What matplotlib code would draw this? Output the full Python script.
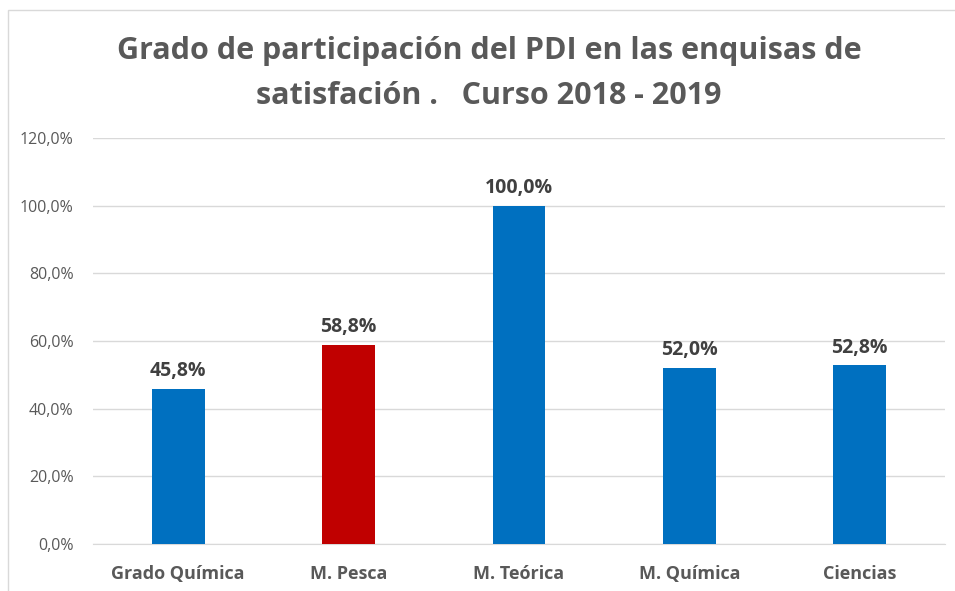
import matplotlib.pyplot as plt
from matplotlib.patches import Rectangle

categories = ["Grado Química", "M. Pesca", "M. Teórica", "M. Química", "Ciencias"]
values = [45.8, 58.8, 100.0, 52.0, 52.8]
bar_colors = ["#0070C0", "#C00000", "#0070C0", "#0070C0", "#0070C0"]
y_ticks = [0, 20, 40, 60, 80, 100, 120]

plt.rcParams['font.family'] = ['Open Sans', 'DejaVu Sans']

fig = plt.figure(figsize=(9.55, 5.91), dpi=100)
ax = fig.add_axes([93/955, 47/591, 852/955, 406/591])

x = list(range(len(categories)))
ax.bar(x, values, width=0.31, color=bar_colors, zorder=3)
for xi, v in zip(x, values):
    ax.text(xi, v + 2.3, ("%.1f%%" % v).replace(".", ","), ha="center", va="bottom",
            fontsize=14, fontweight="bold", color="#404040")

ax.set_xlim(-0.5, len(categories) - 0.5)
ax.set_ylim(0, 120)
ax.set_yticks(y_ticks)
ax.set_yticklabels([("%.1f%%" % t).replace(".", ",") for t in y_ticks],
                   fontsize=11.5, color="#595959")
ax.set_xticks(x)
ax.set_xticklabels(categories, fontsize=13, fontweight="bold", color="#595959")
ax.tick_params(axis="both", length=0)
ax.tick_params(axis="y", pad=14)
ax.tick_params(axis="x", pad=15)
ax.grid(axis="y", color="#D9D9D9", linewidth=1, zorder=0)
for s in ["top", "right", "left"]:
    ax.spines[s].set_visible(False)
ax.spines["bottom"].set_color("#D9D9D9")

fig.text(489/955, 1 - 51/591, "Grado de participación del PDI en las enquisas de",
         ha="center", va="center", fontsize=22, fontweight="bold", color="#595959")
fig.text(489/955, 1 - 96/591, "satisfación .   Curso 2018 - 2019",
         ha="center", va="center", fontsize=22, fontweight="bold", color="#595959")

fig.patches.append(Rectangle((8/955, -0.1), 1.2, 1 - 10/591 + 0.1, transform=fig.transFigure,
                             fill=False, edgecolor="#D9D9D9", linewidth=1))

fig.savefig("out.png", dpi=100)
